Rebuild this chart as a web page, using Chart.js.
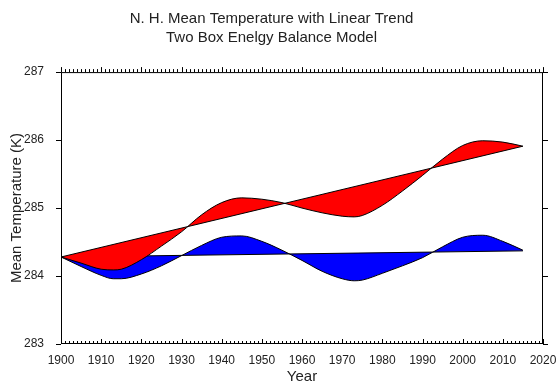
<!DOCTYPE html>
<html>
<head>
<meta charset="utf-8">
<script src="https://cdn.jsdelivr.net/npm/chart.js@4.4.1/dist/chart.umd.min.js"></script>
<style>
  html, body { margin: 0; padding: 0; background: #fff; }
</style>
</head>
<body>
<canvas id="temp-chart" width="558" height="383"></canvas>
<script>
// data
const years = [1900, 1905, 1910, 1913, 1915, 1920, 1925, 1930, 1935, 1940, 1945, 1950, 1955,
  1960, 1965, 1970, 1973, 1975, 1980, 1985, 1990, 1995, 2000, 2005, 2010, 2015];
// N. H. mean temperature (red)
const nhTemp = [284.28, 284.19, 284.10, 284.09, 284.10, 284.24, 284.44, 284.65, 284.90, 285.08, 285.15, 285.13, 285.08,
  285.00, 284.93, 284.88, 284.87, 284.89, 285.04, 285.25, 285.48, 285.72, 285.92, 285.99, 285.97, 285.91];
// detrended temperature (blue)
const nhDetrended = [284.28, 284.14, 284.01, 283.96, 283.96, 284.03, 284.15, 284.30, 284.45, 284.57, 284.59, 284.51, 284.38,
  284.23, 284.07, 283.96, 283.93, 283.94, 284.04, 284.15, 284.27, 284.43, 284.57, 284.60, 284.51, 284.38];
// linear trend lines
const trendYears = [1900, 2015];
const nhTrend = [284.28, 285.91];
const flatTrend = [284.28, 284.37];

const xTicks = [1900, 1910, 1920, 1930, 1940, 1950, 1960, 1970, 1980, 1990, 2000, 2010, 2020];
const yTicks = [283, 284, 285, 286, 287];

const toPoints = (xs, ys) => xs.map((x, i) => ({ x: x, y: ys[i] }));

const FONT = "'Liberation Sans', Arial, Helvetica, sans-serif";

// frame + little tick marks, like the original plot
const frameTicks = {
  id: 'frameTicks',
  afterDraw(chart) {
    const c = chart.ctx;
    const a = chart.chartArea;
    const xs = chart.scales.x;
    const ys = chart.scales.y;
    c.save();
    c.strokeStyle = '#000';
    c.lineWidth = 1;
    c.strokeRect(a.left + 0.5, a.top + 0.5, a.right - a.left - 1, a.bottom - a.top - 1);
    c.beginPath();
    for (let yr = xTicks[0]; yr <= xTicks[xTicks.length - 1]; yr++) {
      const px = Math.round(xs.getPixelForValue(yr)) + 0.5;
      const len = yr % 10 === 0 ? 5 : 3;
      c.moveTo(px, a.bottom);
      c.lineTo(px, a.bottom - len);
      c.moveTo(px, a.top);
      c.lineTo(px, a.top - len);
    }
    yTicks.forEach(v => {
      const py = Math.round(ys.getPixelForValue(v)) + 0.5;
      c.moveTo(a.left, py);
      c.lineTo(a.left - 5, py);
      c.moveTo(a.right, py);
      c.lineTo(a.right + 5, py);
    });
    c.stroke();
    c.restore();
  }
};

const ctx = document.getElementById('temp-chart').getContext('2d');

new Chart(ctx, {
  type: 'line',
  data: {
    datasets: [
      {
        label: 'N. H. temperature',
        data: toPoints(years, nhTemp),
        borderColor: '#000',
        borderWidth: 1,
        backgroundColor: '#ff0000',
        fill: 1,
        pointRadius: 0,
        cubicInterpolationMode: 'monotone',
        order: 1
      },
      {
        label: 'trend',
        data: toPoints(trendYears, nhTrend),
        borderColor: '#000',
        borderWidth: 1,
        pointRadius: 0,
        fill: false,
        order: 0
      },
      {
        label: 'detrended',
        data: toPoints(years, nhDetrended),
        borderColor: '#000',
        borderWidth: 1,
        backgroundColor: '#0000ff',
        fill: 3,
        pointRadius: 0,
        cubicInterpolationMode: 'monotone',
        order: 3
      },
      {
        label: 'flat trend',
        data: toPoints(trendYears, flatTrend),
        borderColor: '#000',
        borderWidth: 1,
        pointRadius: 0,
        fill: false,
        order: 2
      }
    ]
  },
  options: {
    responsive: false,
    animation: false,
    layout: { padding: { left: 0, right: 15, top: 0, bottom: 0 } },
    plugins: {
      legend: { display: false },
      tooltip: { enabled: false },
      title: {
        display: true,
        text: ['N. H. Mean Temperature with Linear Trend', 'Two Box Enelgy Balance Model'],
        color: '#222',
        font: { family: FONT, size: 15, weight: 'normal', lineHeight: 1.27 },
        padding: { top: 9, bottom: 25 }
      }
    },
    scales: {
      x: {
        type: 'linear',
        min: 1900,
        max: 2020,
        afterBuildTicks: s => { s.ticks = xTicks.map(v => ({ value: v })); },
        afterFit: s => { s.height = 39; s.paddingLeft = 0; s.paddingRight = 0; },
        grid: { display: false, drawTicks: false },
        border: { display: false },
        ticks: {
          color: '#222',
          padding: 9,
          maxRotation: 0,
          autoSkip: false,
          font: { family: FONT, size: 12 },
          callback: v => String(v)
        },
        title: {
          display: true,
          text: 'Year',
          color: '#222',
          font: { family: FONT, size: 15, lineHeight: 0.8 },
          padding: { top: 0, bottom: 0 }
        }
      },
      y: {
        min: 283,
        max: 287,
        afterBuildTicks: s => { s.ticks = yTicks.map(v => ({ value: v })); },
        afterFit: s => { s.width = 61; },
        grid: { display: false, drawTicks: false },
        border: { display: false },
        ticks: {
          color: '#222',
          padding: 17,
          font: { family: FONT, size: 12 },
          callback: v => String(v)
        },
        title: {
          display: true,
          text: 'Mean Temperature (K)',
          color: '#222',
          font: { family: FONT, size: 15 },
          padding: { top: 8, bottom: 8 }
        }
      }
    }
  },
  plugins: [frameTicks]
});
</script>
</body>
</html>
